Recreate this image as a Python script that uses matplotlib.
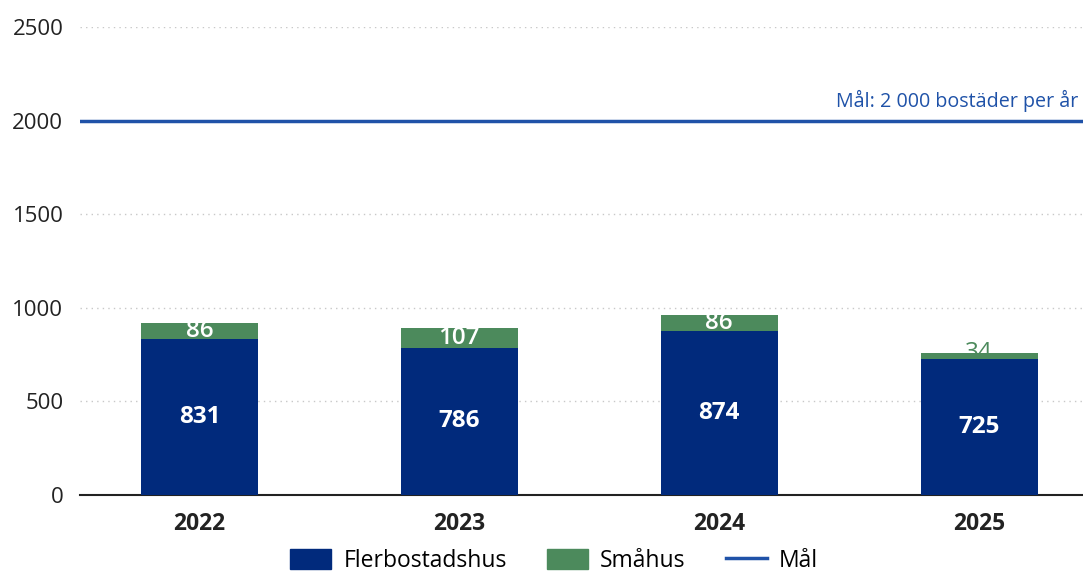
import matplotlib
matplotlib.use("Agg")
import matplotlib.pyplot as plt
from matplotlib.patches import Patch
from matplotlib.lines import Line2D

years = ["2022", "2023", "2024", "2025"]
flerbostadshus = [831, 786, 874, 725]
smahus = [86, 107, 86, 34]
goal = 2000
goal_label = "Mål: 2 000 bostäder per år"
yticks = [0, 500, 1000, 1500, 2000, 2500]

navy = "#012a7c"
green = "#4c8a5c"
goal_blue = "#1f52a8"

plt.rcParams['font.family'] = ['Open Sans', 'DejaVu Sans']

fig = plt.figure(figsize=(10.83, 5.74), dpi=100)
ax = fig.add_axes([80/1083, 79/574, 1 - 80/1083, (495-27)/574])

x = list(range(len(years)))
w = 0.45
ax.bar(x, flerbostadshus, width=w, color=navy, zorder=3)
ax.bar(x, smahus, width=w, bottom=flerbostadshus, color=green, zorder=3)

for xi, f, s in zip(x, flerbostadshus, smahus):
    ax.text(xi, f / 2, str(f), ha="center", va="center", color="white",
            fontsize=17.5, fontweight="bold", zorder=4)
    if s >= 60:
        ax.text(xi, f + s / 2, str(s), ha="center", va="center", color="white",
                fontsize=17.5, fontweight="semibold", zorder=4)
    else:
        ax.text(xi, f + s / 2 + 15, str(s), ha="center", va="center", color=green,
                fontsize=17.5, zorder=4)

ax.axhline(goal, color=goal_blue, lw=2.5, zorder=2)
ax.text(0.995, goal + 45, goal_label, transform=ax.get_yaxis_transform(),
        ha="right", va="bottom", color=goal_blue, fontsize=14.2)

ax.set_ylim(0, 2500)
ax.set_xlim(-0.46, 3.40)
ax.set_yticks(yticks)
ax.set_yticklabels([str(t) for t in yticks], fontsize=16, color="#222222")
ax.set_xticks(x)
ax.set_xticklabels(years, fontsize=16.5, fontweight="bold", color="#222222")
ax.tick_params(axis="both", length=0)
ax.tick_params(axis="y", pad=12)
ax.tick_params(axis="x", pad=12)

for t in [500, 1000, 1500, 2500]:
    ax.axhline(t, color="#c8c8c8", lw=1, ls=(0, (1, 3)), zorder=1)

for sp in ["top", "right", "left"]:
    ax.spines[sp].set_visible(False)
ax.spines["bottom"].set_color("#222222")
ax.spines["bottom"].set_linewidth(1.5)

handles = [Patch(color=navy, label="Flerbostadshus"),
           Patch(color=green, label="Småhus"),
           Line2D([0], [0], color=goal_blue, lw=2.5, label="Mål")]
fig.legend(handles=handles, loc="center", bbox_to_anchor=(554/1083, 13/574), ncol=3,
           frameon=False, fontsize=16.5, handlelength=1.8, handleheight=1.0,
           columnspacing=1.75, handletextpad=0.52, borderpad=0.1)

fig.savefig("out.png", dpi=100)
